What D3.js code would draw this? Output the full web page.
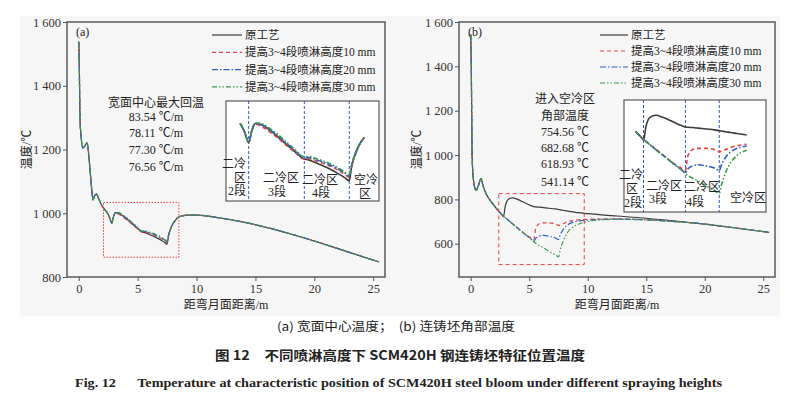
<!DOCTYPE html>
<html lang="zh">
<head>
<meta charset="UTF-8">
<title>SCM420H 连铸坯特征位置温度</title>
<style>
  body { margin: 0; background: #fff; }
  svg { display: block; }
  text { font-family: "Liberation Serif", "Times New Roman", "Noto Sans CJK SC", serif; fill: #222; white-space: pre; }
  .cap { font-family: "Noto Sans CJK SC", sans-serif; }
  .tick line { stroke: #555; }
  .tick text { font-size: 12.5px; fill: #333; }
</style>
</head>
<body>
<svg id="chart" width="798" height="399"></svg>
<script src="https://d3js.org/d3.v7.min.js"></script>
<script>
// ---- data ----
const seriesNames = ["原工艺", "提高3~4段喷淋高度10 mm", "提高3~4段喷淋高度20 mm", "提高3~4段喷淋高度30 mm"];
const xTicks = [0, 5, 10, 15, 20, 25];
const yTicksA = [800, 1000, 1200, 1400, 1600];
const yTicksB = [600, 800, 1000, 1200, 1400, 1600];
const zoneBounds = [2.8, 5.4, 7.5];

// (a) wide face centre
const distA = [0, 0.05, 0.1, 0.2, 0.34, 0.5, 0.7, 0.8, 0.93, 1.05,
  1.13, 1.21, 1.35, 1.49, 1.7, 1.97, 2.2, 2.4, 2.6, 2.72,
  2.8, 2.95, 3.1, 3.4, 3.8, 4.1, 4.5, 5.0, 5.36, 5.6,
  6.07, 6.5, 7.0, 7.3, 7.5, 7.6, 7.9, 8.2, 8.47, 8.8,
  9.18, 10, 12, 14, 16, 18, 20, 22, 24, 25.5];
const tempA0 = [1538, 1450, 1300, 1240, 1205, 1210, 1221, 1200, 1148, 1095,
  1064, 1042, 1055, 1060, 1045, 1023, 1012, 1002, 988, 975,
  969, 990, 1002, 1000, 990, 981, 968, 952, 941, 939,
  932, 925, 915, 908, 903, 925, 960, 978, 988, 992,
  994, 994, 985, 972, 955, 935, 913, 889, 865, 847];
const tempA10 = [1538, 1450, 1300, 1240, 1205, 1210, 1221, 1200, 1148, 1095,
  1064, 1042, 1055, 1060, 1045, 1023, 1012, 1002, 988, 975,
  969, 990, 1001, 997, 987, 979, 966, 951, 941, 941,
  936, 930, 921, 914, 909, 927, 960, 978, 988, 992,
  994, 994, 985, 972, 955, 935, 913, 889, 865, 847];
const tempA20 = [1538, 1450, 1300, 1240, 1205, 1210, 1221, 1200, 1148, 1095,
  1064, 1042, 1055, 1060, 1045, 1023, 1012, 1002, 988, 975,
  969, 990, 1002, 1000, 991, 983, 970, 954, 943, 943,
  938, 932, 923, 916, 911, 928, 960, 978, 988, 992,
  994, 994, 985, 972, 955, 935, 913, 889, 865, 847];
const tempA30 = [1538, 1450, 1300, 1240, 1205, 1210, 1221, 1200, 1148, 1095,
  1064, 1042, 1055, 1060, 1045, 1023, 1012, 1002, 988, 975,
  969, 990, 1003, 1002, 993, 985, 972, 956, 945, 945,
  940, 934, 925, 918, 912, 929, 961, 978, 988, 992,
  994, 994, 985, 972, 955, 935, 913, 889, 865, 847];
const reheatRates = ["83.54 ℃/m", "78.11 ℃/m", "77.30 ℃/m", "76.56 ℃/m"];

// (b) bloom corner
const distB = [0, 0.05, 0.12, 0.25, 0.46, 0.65, 0.88, 1.05, 1.31, 1.6,
  1.87, 2.3, 2.72, 2.8, 2.95, 3.2, 3.57, 4.0, 4.5, 4.85,
  5.15, 5.4, 5.55, 5.85, 6.2, 6.7, 7.2, 7.5, 7.65, 7.9,
  8.2, 8.6, 9.2, 10, 11, 12.5, 15, 17.5, 20, 22.5,
  25.5];
const tempB0 = [1544, 1400, 1000, 880, 841, 862, 894, 862, 826, 800,
  781, 752, 728, 722, 768, 800, 807, 800, 788, 779,
  772, 767, 766, 765, 763, 760, 757, 754.56, 753, 751,
  748, 745, 740, 736, 731, 725, 715, 702, 688, 672,
  651];
const tempB10 = [1544, 1400, 1000, 880, 841, 862, 894, 862, 826, 800,
  781, 752, 728, 724, 718, 707, 691, 672, 650, 636,
  626, 619, 668, 690, 694, 694, 690, 682.68, 684, 690,
  697, 703, 708, 710, 711, 712, 708, 700, 689, 672,
  651];
const tempB20 = [1544, 1400, 1000, 880, 841, 862, 894, 862, 826, 800,
  781, 752, 728, 724, 718, 707, 690, 671, 649, 634,
  622, 611, 624, 634, 638, 634, 627, 618.93, 640, 664,
  682, 694, 702, 706, 710, 711, 708, 700, 689, 672,
  651];
const tempB30 = [1544, 1400, 1000, 880, 841, 862, 894, 862, 826, 800,
  781, 752, 728, 723, 717, 706, 689, 670, 648, 633,
  621, 608, 602, 592, 582, 566, 551, 541.14, 572, 612,
  645, 670, 688, 700, 707, 710, 707, 700, 689, 672,
  651];
const airTemps = ["754.56 ℃", "682.68 ℃", "618.93 ℃", "541.14 ℃"];

// ---- styles ----
const colors = ["#3a3a3a", "#e8413e", "#2f5fc4", "#3a9a4a"];
const dashes = [null, "4,3", "6,2,1.5,2", "5,2,1.5,2,1.5,2"];

const svg = d3.select("#chart");
svg.append("rect").attr("x", 20).attr("y", 16).attr("width", 760).attr("height", 300).attr("fill", "#f6f6f6");

const fmtTick = v => v >= 1000 ? Math.floor(v / 1000) + " " + String(v % 1000).padStart(3, "0") : String(v);
const plotTop = 22, plotBottom = 277;

function drawPanel(cfg) {
  const x = d3.scaleLinear().domain([-1, 26]).range([cfg.left, cfg.right]);
  const y = d3.scaleLinear().domain(cfg.yDomain).range([plotBottom, plotTop]);
  const g = svg.append("g");

  g.append("g").attr("transform", `translate(0,${plotBottom})`)
    .call(d3.axisBottom(x).tickValues(xTicks).tickSize(4).tickPadding(3).tickSizeOuter(0))
    .call(a => a.select(".domain").remove());
  g.append("g").attr("transform", `translate(${cfg.left},0)`)
    .call(d3.axisLeft(y).tickValues(cfg.yTicks).tickFormat(fmtTick).tickSize(4).tickPadding(2).tickSizeOuter(0))
    .call(a => a.select(".domain").remove());

  g.append("rect").attr("x", cfg.left).attr("y", plotTop)
    .attr("width", cfg.right - cfg.left).attr("height", plotBottom - plotTop)
    .attr("fill", "none").attr("stroke", "#5a5a5a").attr("stroke-width", 1.5);

  // axis titles
  g.append("text").attr("x", (cfg.left + cfg.right) / 2).attr("y", 309)
    .attr("text-anchor", "middle").style("font-size", "12px").text("距弯月面距离/m");
  g.append("text").attr("transform", `translate(${cfg.ylabX},${(plotTop + plotBottom) / 2}) rotate(-90)`)
    .attr("text-anchor", "middle").attr("dy", "0.35em").style("font-size", "12px").text("温度/℃");
  g.append("text").attr("x", cfg.left + 9).attr("y", 36).style("font-size", "12px").text(cfg.tag);

  const line = d3.line().x(d => x(d[0])).y(d => y(d[1])).curve(d3.curveMonotoneX);
  cfg.series.forEach((vals, i) => {
    g.append("path").datum(cfg.dist.map((d, j) => [d, vals[j]]))
      .attr("d", line).attr("fill", "none").attr("stroke", colors[i])
      .attr("stroke-width", 1.2).attr("stroke-dasharray", dashes[i]);
  });

  // zoom window marker
  const b = cfg.box;
  g.append("rect").attr("x", x(b.x0)).attr("y", y(b.y1))
    .attr("width", x(b.x1) - x(b.x0)).attr("height", y(b.y0) - y(b.y1))
    .attr("fill", "none").attr("stroke", "#e8413e").attr("stroke-width", 1)
    .attr("stroke-dasharray", b.dash);

  // legend
  const lg = cfg.legend;
  seriesNames.forEach((name, i) => {
    const yy = lg.y + i * lg.step;
    g.append("line").attr("x1", lg.x).attr("x2", lg.x + lg.len).attr("y1", yy).attr("y2", yy)
      .attr("stroke", colors[i]).attr("stroke-width", 1.2).attr("stroke-dasharray", dashes[i]);
    g.append("text").attr("x", lg.x + lg.len + 3).attr("y", yy).attr("dy", "0.35em")
      .style("font-size", "11.5px").text(name);
  });

  // annotation
  cfg.note.lines.forEach((t, i) => {
    g.append("text").attr("x", cfg.note.x).attr("y", cfg.note.ys[i]).attr("dy", "0.35em")
      .attr("text-anchor", "middle").style("font-size", "12px").text(t);
  });

  // inset
  const ins = cfg.inset;
  const xi = d3.scaleLinear().domain(ins.xDomain).range([ins.x0, ins.x1]);
  const yi = d3.scaleLinear().domain(ins.yDomain).range([ins.y1, ins.y0]);
  g.append("rect").attr("x", ins.x0).attr("y", ins.y0).attr("width", ins.x1 - ins.x0)
    .attr("height", ins.y1 - ins.y0).attr("fill", "#fff").attr("stroke", "#5a5a5a").attr("stroke-width", 1.2);
  zoneBounds.forEach(v => {
    g.append("line").attr("x1", xi(v)).attr("x2", xi(v)).attr("y1", ins.y0).attr("y2", ins.y1)
      .attr("stroke", "#3355cc").attr("stroke-width", 1).attr("stroke-dasharray", "3,2");
  });
  const iline = d3.line().x(d => xi(d[0])).y(d => yi(d[1])).curve(d3.curveMonotoneX);
  cfg.series.forEach((vals, i) => {
    const pts = cfg.dist.map((d, j) => [d, vals[j]]).filter(p => p[0] >= ins.win[0] && p[0] <= ins.win[1]);
    g.append("path").datum(pts).attr("d", iline).attr("fill", "none").attr("stroke", colors[i])
      .attr("stroke-width", 1.6).attr("stroke-dasharray", dashes[i]);
  });
  ins.labels.forEach(l => {
    g.append("text").attr("x", l.x).attr("y", l.y).attr("dy", "0.35em")
      .attr("text-anchor", l.anchor || "middle").style("font-size", "12px").text(l.t);
  });
}

drawPanel({
  left: 67, right: 385, ylabX: 27, tag: "(a)",
  yDomain: [800, 1600], yTicks: yTicksA,
  dist: distA, series: [tempA0, tempA10, tempA20, tempA30],
  box: { x0: 2.1, x1: 8.5, y0: 862, y1: 1034, dash: "1.5,1.5" },
  legend: { x: 212, len: 30, y: 35, step: 17.3 },
  note: { x: 156, lines: ["宽面中心最大回温"].concat(reheatRates), ys: [103, 117, 133, 150, 167] },
  inset: {
    x0: 226, x1: 379, y0: 101, y1: 201, xDomain: [1.74, 8.89], yDomain: [868, 1041], win: [2.4, 8.25],
    labels: [
      { t: "二冷", x: 246, y: 164, anchor: "end" }, { t: "区", x: 246, y: 177.5, anchor: "end" },
      { t: "2段", x: 246, y: 191, anchor: "end" },
      { t: "二冷区", x: 281, y: 178 }, { t: "3段", x: 277, y: 192 },
      { t: "二冷区", x: 320, y: 180 }, { t: "4段", x: 321, y: 193 },
      { t: "空冷", x: 366, y: 180 }, { t: "区", x: 365, y: 194 }
    ]
  }
});

drawPanel({
  left: 459, right: 775, ylabX: 417, tag: "(b)",
  yDomain: [450, 1600], yTicks: yTicksB,
  dist: distB, series: [tempB0, tempB10, tempB20, tempB30],
  box: { x0: 2.4, x1: 9.7, y0: 506, y1: 826, dash: "4,3" },
  legend: { x: 600, len: 28, y: 35, step: 16 },
  note: { x: 565, lines: ["进入空冷区", "角部温度"].concat(airTemps), ys: [99, 116, 132, 148, 164, 182] },
  inset: {
    x0: 624, x1: 766, y0: 100, y1: 212, xDomain: [1.59, 10.4], yDomain: [477, 859], win: [2.3, 9.3],
    labels: [
      { t: "二冷", x: 643, y: 175, anchor: "end" }, { t: "区", x: 638, y: 189, anchor: "end" },
      { t: "2段", x: 642, y: 203, anchor: "end" },
      { t: "二冷区", x: 664, y: 186 }, { t: "3段", x: 658, y: 199 },
      { t: "二冷区", x: 702, y: 187 }, { t: "4段", x: 695, y: 202 },
      { t: "空冷区", x: 748, y: 198 }
    ]
  }
});

// captions
svg.append("text").attr("class", "cap").attr("x", 277).attr("y", 331)
  .attr("textLength", 238).attr("lengthAdjust", "spacingAndGlyphs")
  .style("font-size", "12px").text("(a) 宽面中心温度；  (b) 连铸坯角部温度");
svg.append("text").attr("class", "cap").attr("x", 215).attr("y", 360)
  .attr("textLength", 370).attr("lengthAdjust", "spacingAndGlyphs")
  .style("font-size", "13px").style("font-weight", "bold").text("图 12　不同喷淋高度下 SCM420H 钢连铸坯特征位置温度");
svg.append("text").attr("x", 75).attr("y", 387)
  .attr("textLength", 647).attr("lengthAdjust", "spacingAndGlyphs")
  .style("font-size", "13px").style("font-weight", "bold")
  .text("Fig. 12\u2003\u2002Temperature at characteristic position of SCM420H steel bloom under different spraying heights");
</script>
</body>
</html>
